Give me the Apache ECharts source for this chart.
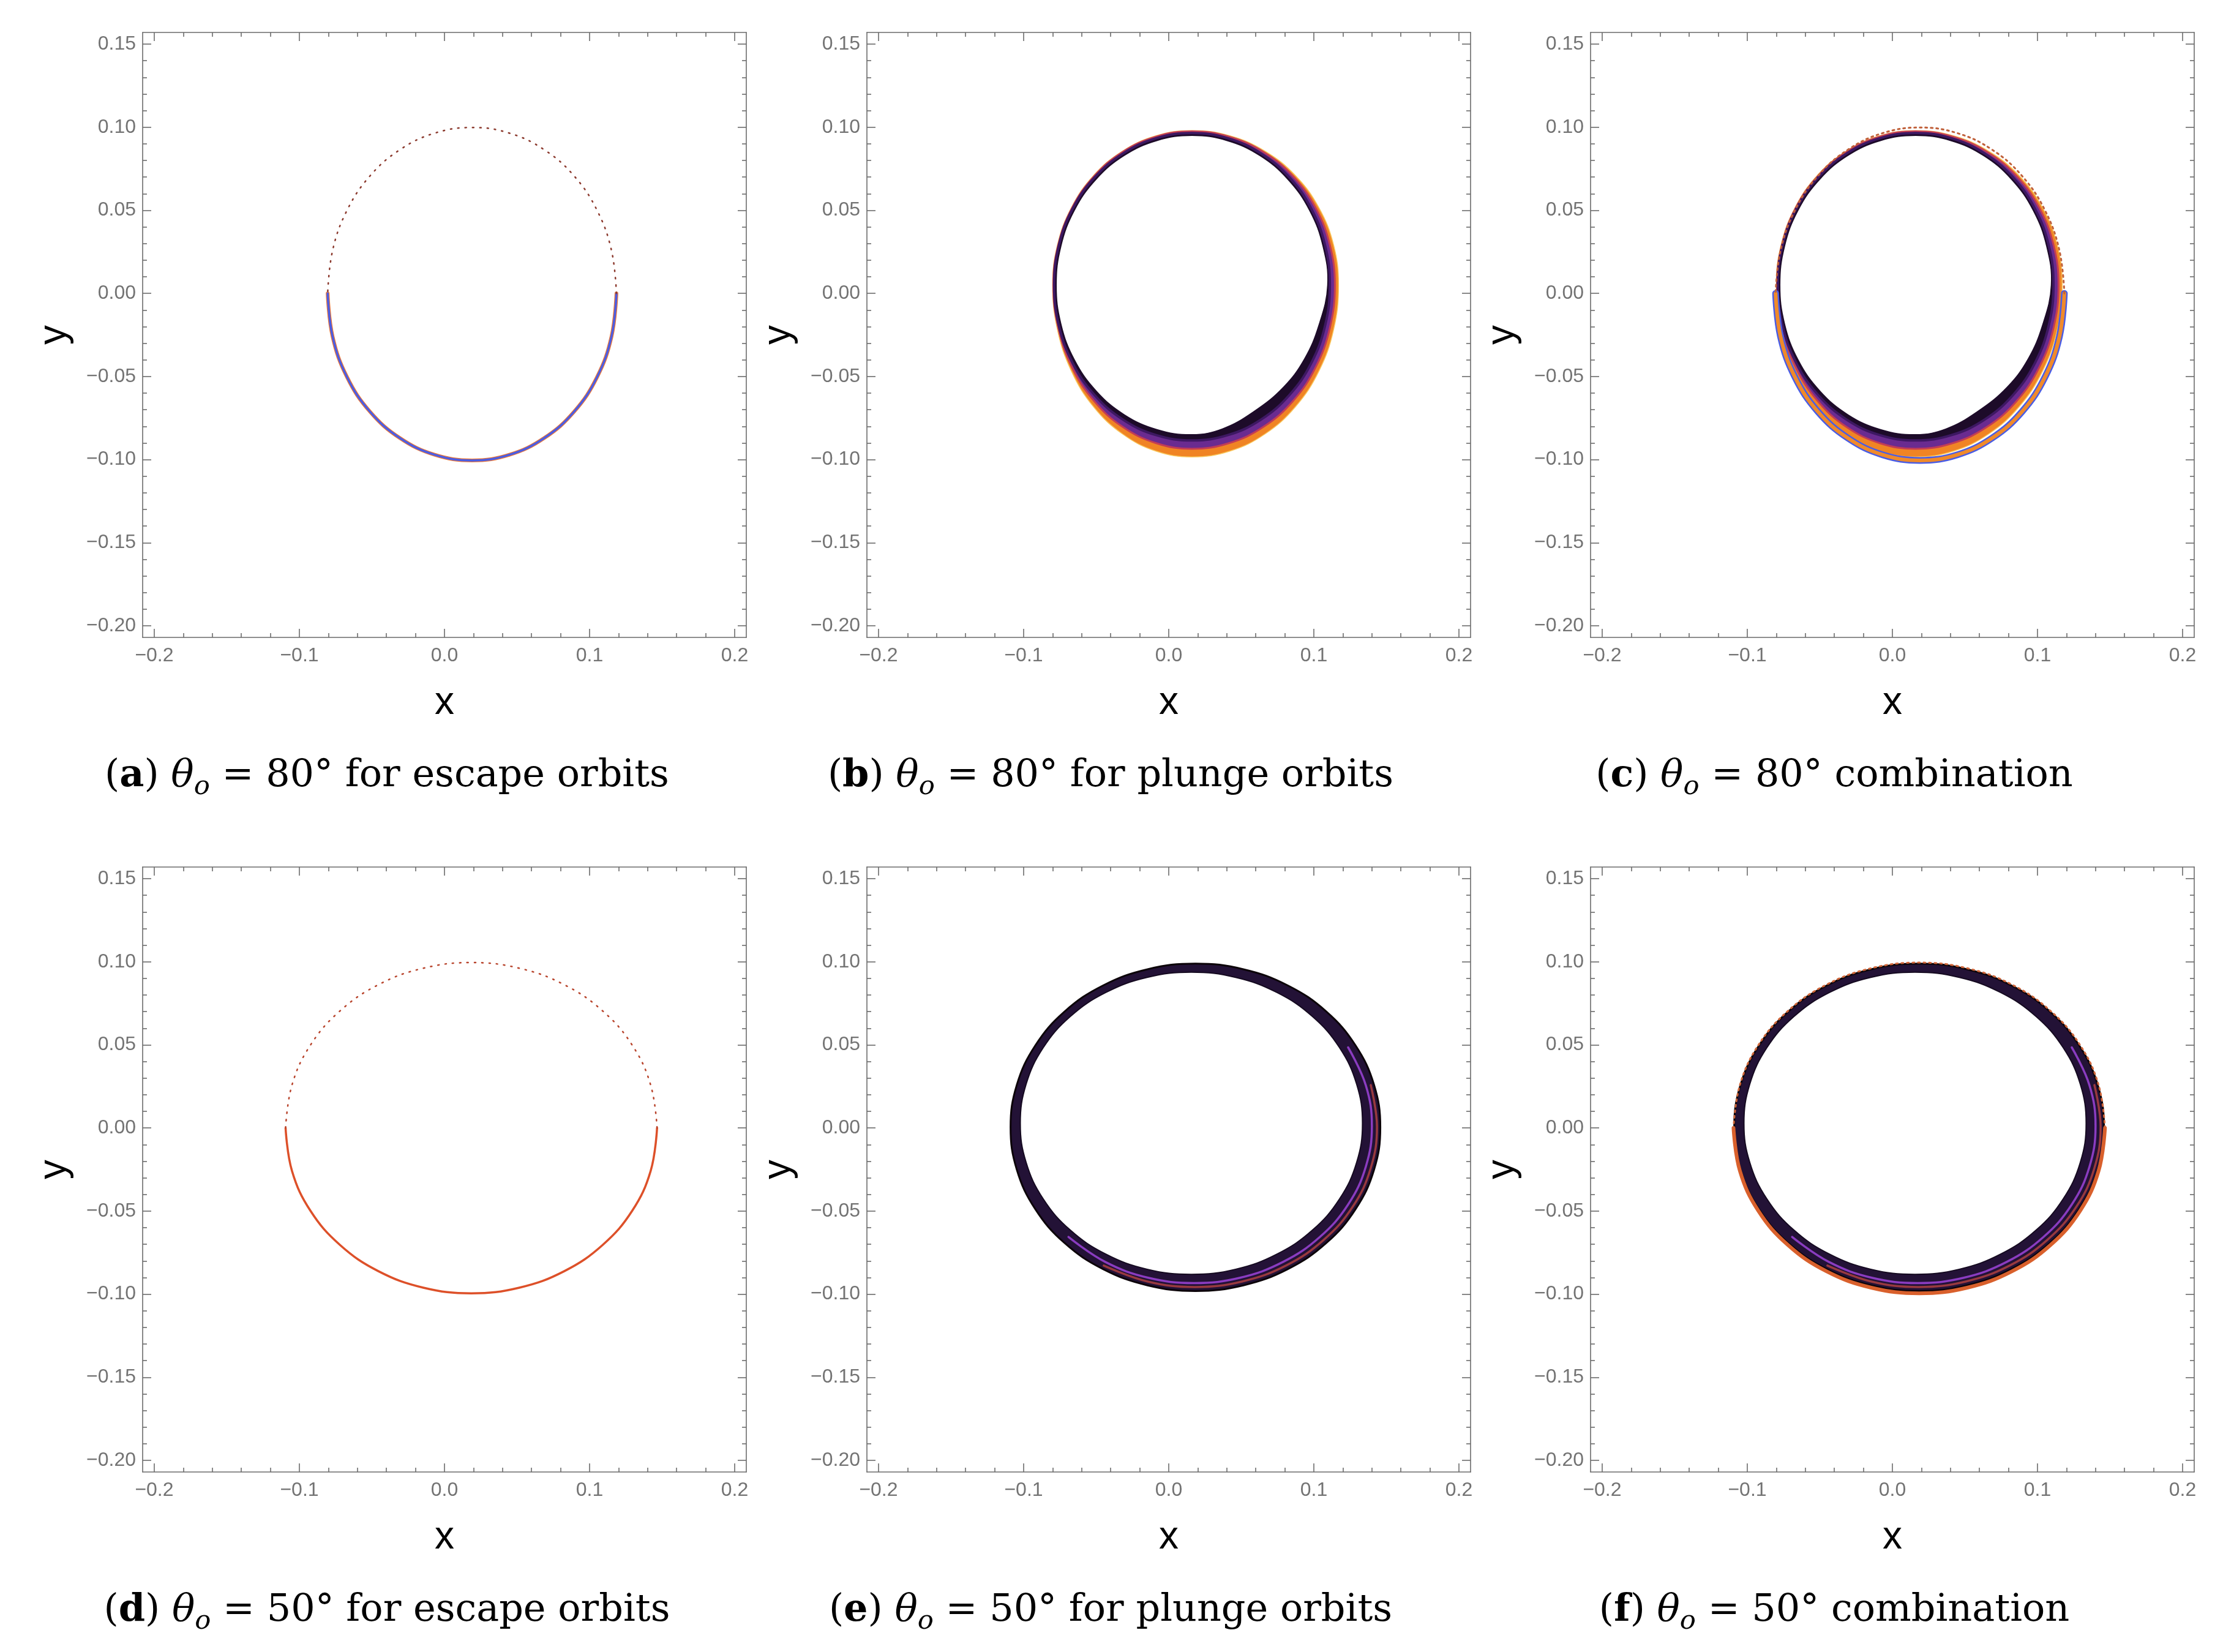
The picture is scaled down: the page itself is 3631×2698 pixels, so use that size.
<!DOCTYPE html>
<html lang="en">

<head>
  <meta charset="UTF-8">
  <meta name="viewport" content="width=device-width, initial-scale=1.0">
  <title>Shadow rings</title>
  <style>
    html, body {
      margin: 0;
      padding: 0;
      background: #fff;
    }

    #main {
      width: 3631px;
      height: 2698px;
    }
  </style>
</head>

<body>
  <div id="main"></div>
  <script src="https://cdn.jsdelivr.net/npm/echarts@6/dist/echarts.min.js"></script>
  <script>
    // ---- ticks ----
    var xMajorTicks = [-0.2, -0.1, 0, 0.1, 0.2];
    var xMinorTicks = [-0.18, -0.16, -0.14, -0.12, -0.08, -0.06, -0.04, -0.02,
      0.02, 0.04, 0.06, 0.08, 0.12, 0.14, 0.16, 0.18];
    var yMajorTicks = [-0.2, -0.15, -0.1, -0.05, 0, 0.05, 0.1, 0.15];
    var yMinorTicks = [-0.19, -0.18, -0.17, -0.16, -0.14, -0.13, -0.12, -0.11,
      -0.09, -0.08, -0.07, -0.06, -0.04, -0.03, -0.02, -0.01,
      0.01, 0.02, 0.03, 0.04, 0.06, 0.07, 0.08, 0.09, 0.11, 0.12, 0.13, 0.14];

    // ---- captions ----
    var captionLetters = ['a', 'b', 'c', 'd', 'e', 'f'];
    var captionAngles = ['80', '80', '80', '50', '50', '50'];
    var captionTails = ['for escape orbits', 'for plunge orbits', 'combination',
      'for escape orbits', 'for plunge orbits', 'combination'];

    // ---- theta_o = 80 deg, escape orbits (thin ring) ----
    var escLowA = [[-0.0805, 0.000], [-0.0771, -0.0260], [-0.0672, -0.0503], [-0.0514, -0.0711],
      [-0.0308, -0.0870], [-0.0068, -0.0971], [0.0190, -0.1005], [0.0448, -0.0971],
      [0.0688, -0.0870], [0.0894, -0.0711], [0.1052, -0.0503], [0.1151, -0.0260], [0.1185, 0.000]];
    var escUpA = [[0.1185, 0.000], [0.1151, 0.0258], [0.1052, 0.0499], [0.0894, 0.0706],
      [0.0688, 0.0864], [0.0448, 0.0964], [0.0190, 0.0998], [-0.0068, 0.0964],
      [-0.0308, 0.0864], [-0.0514, 0.0706], [-0.0672, 0.0499], [-0.0771, 0.0258], [-0.0805, 0.000]];

    // ---- theta_o = 80 deg, plunge orbits (banded ring) ----
    var outerB = [[0.1170, 0.005], [0.1136, 0.0291], [0.1035, 0.0515], [0.0874, 0.0708],
      [0.0665, 0.0855], [0.0421, 0.0948], [0.0160, 0.0980], [-0.0088, 0.0948],
      [-0.0320, 0.0855], [-0.0519, 0.0708], [-0.0671, 0.0515], [-0.0767, 0.0291],
      [-0.0800, 0.005], [-0.0767, -0.0218], [-0.0671, -0.0467], [-0.0519, -0.0681],
      [-0.0320, -0.0845], [-0.0088, -0.0949], [0.0160, -0.0984], [0.0421, -0.0949],
      [0.0665, -0.0845], [0.0874, -0.0681], [0.1035, -0.0467], [0.1136, -0.0218]];
    var purpleB = [[0.1145, 0.005], [0.1111, 0.0289], [0.1013, 0.0513], [0.0857, 0.0704],
      [0.0653, 0.0851], [0.0415, 0.0943], [0.0160, 0.0975], [-0.0087, 0.0943],
      [-0.0318, 0.0851], [-0.0515, 0.0704], [-0.0667, 0.0513], [-0.0762, 0.0289],
      [-0.0795, 0.005], [-0.0762, -0.0205], [-0.0667, -0.0443], [-0.0515, -0.0647],
      [-0.0318, -0.0803], [-0.0087, -0.0901], [0.0160, -0.0935], [0.0415, -0.0901],
      [0.0653, -0.0803], [0.0857, -0.0647], [0.1013, -0.0443], [0.1111, -0.0205]];
    var blackB = [[0.1110, 0.005], [0.1078, 0.0287], [0.0983, 0.0508], [0.0832, 0.0697],
      [0.0635, 0.0842], [0.0406, 0.0934], [0.0160, 0.0965], [-0.0086, 0.0934],
      [-0.0315, 0.0842], [-0.0512, 0.0697], [-0.0663, 0.0508], [-0.0758, 0.0287],
      [-0.0790, 0.005], [-0.0758, -0.0192], [-0.0663, -0.0418], [-0.0512, -0.0611],
      [-0.0315, -0.0760], [-0.0086, -0.0853], [0.0160, -0.0885], [0.0406, -0.0853],
      [0.0635, -0.0760], [0.0832, -0.0611], [0.0983, -0.0418], [0.1078, -0.0192]];
    var holeB = [[0.1095, 0.005], [0.1063, 0.0283], [0.0970, 0.0500], [0.0821, 0.0686],
      [0.0628, 0.0829], [0.0402, 0.0919], [0.0160, 0.0950], [-0.0082, 0.0919],
      [-0.0308, 0.0829], [-0.0501, 0.0686], [-0.0650, 0.0500], [-0.0743, 0.0283],
      [-0.0775, 0.005], [-0.0743, -0.0183], [-0.0650, -0.0400], [-0.0501, -0.0586],
      [-0.0308, -0.0729], [-0.0082, -0.0819], [0.0160, -0.0850], [0.0370, -0.0815],
      [0.0585, -0.0712], [0.0790, -0.0565], [0.0935, -0.0395], [0.1035, -0.0190]];

    // ---- theta_o = 50 deg, escape orbits (thin ring) ----
    var escLowD = [[-0.1095, 0.000], [-0.1051, -0.0258], [-0.0924, -0.0498], [-0.0720, -0.0704],
      [-0.0455, -0.0862], [-0.0146, -0.0961], [0.0185, -0.0995], [0.0516, -0.0961],
      [0.0825, -0.0862], [0.1090, -0.0704], [0.1294, -0.0498], [0.1421, -0.0258], [0.1465, 0.000]];
    var escUpD = [[0.1465, 0.000], [0.1421, 0.0258], [0.1294, 0.0498], [0.1090, 0.0704],
      [0.0825, 0.0862], [0.0516, 0.0961], [0.0185, 0.0995], [-0.0146, 0.0961],
      [-0.0455, 0.0862], [-0.0720, 0.0704], [-0.0924, 0.0498], [-0.1051, 0.0258], [-0.1095, 0.000]];

    // ---- theta_o = 50 deg, plunge orbits (thick dark ring) ----
    var outerE = [[0.1458, 0.0004], [0.1415, 0.0259], [0.1287, 0.0497], [0.1085, 0.0701],
      [0.0821, 0.0857], [0.0514, 0.0955], [0.0184, 0.0989], [-0.0146, 0.0955],
      [-0.0453, 0.0857], [-0.0717, 0.0701], [-0.0919, 0.0497], [-0.1047, 0.0259],
      [-0.1090, 0.0004], [-0.1047, -0.0251], [-0.0919, -0.0489], [-0.0717, -0.0693],
      [-0.0453, -0.0849], [-0.0146, -0.0947], [0.0184, -0.0981], [0.0514, -0.0947],
      [0.0821, -0.0849], [0.1085, -0.0693], [0.1287, -0.0489], [0.1415, -0.0251]];
    var holeE = [[0.1335, 0.0028], [0.1295, 0.0263], [0.1177, 0.0483], [0.0990, 0.0671],
      [0.0746, 0.0815], [0.0461, 0.0906], [0.0156, 0.0937], [-0.0149, 0.0906],
      [-0.0434, 0.0815], [-0.0678, 0.0671], [-0.0865, 0.0483], [-0.0983, 0.0263],
      [-0.1023, 0.0028], [-0.0983, -0.0207], [-0.0865, -0.0427], [-0.0678, -0.0615],
      [-0.0434, -0.0759], [-0.0149, -0.0850], [0.0156, -0.0881], [0.0461, -0.0850],
      [0.0746, -0.0759], [0.0990, -0.0615], [0.1177, -0.0427], [0.1295, -0.0207]];
    var redArcE = [[0.1392, 0.0258], [0.1435, 0.0008], [0.1392, -0.0242], [0.1267, -0.0475],
      [0.1067, -0.0674], [0.0808, -0.0828], [0.0505, -0.0924], [0.0180, -0.0957],
      [-0.0145, -0.0924], [-0.0448, -0.0828]];
    var purpleArcE = [[0.1236, 0.0485], [0.1358, 0.0257], [0.1400, 0.0012], [0.1358, -0.0233],
      [0.1236, -0.0461], [0.1041, -0.0656], [0.0788, -0.0806], [0.0492, -0.0901],
      [0.0175, -0.0933], [-0.0142, -0.0901], [-0.0438, -0.0806], [-0.0691, -0.0656]];

    var X_MIN = -0.208, X_MAX = 0.208, Y_MIN = -0.207, Y_MAX = 0.157;
    var gridLefts = [233, 1416, 2598];
    var gridTops = [53, 1416];
    var GRID_W = 986, GRID_H = 988;
    var axisColor = '#6b6b6b';
    var labelColor = '#737373';

    function fmtX(v) {
      return (v < 0 ? '\u2212' : '') + Math.abs(v).toFixed(1);
    }
    function fmtY(v) {
      return (v < 0 ? '\u2212' : '') + Math.abs(v).toFixed(2);
    }

    var grids = [], xAxes = [], yAxes = [], series = [], graphics = [];

    function tickAxis(g, dim, pos, major, withLabel) {
      var ax = {
        gridIndex: g,
        type: 'value',
        min: dim === 'x' ? X_MIN : Y_MIN,
        max: dim === 'x' ? X_MAX : Y_MAX,
        position: pos,
        splitLine: { show: false },
        axisLine: { show: major, onZero: false, lineStyle: { color: axisColor, width: 1.6 } },
        axisTick: {
          show: true, inside: true, length: major ? 14 : 7,
          customValues: dim === 'x' ? (major ? xMajorTicks : xMinorTicks) : (major ? yMajorTicks : yMinorTicks),
          lineStyle: { color: axisColor, width: 1.6 }
        },
        axisLabel: { show: false },
        silent: true
      };
      if (withLabel) {
        ax.axisLabel = {
          show: true,
          customValues: dim === 'x' ? xMajorTicks : yMajorTicks,
          formatter: dim === 'x' ? fmtX : fmtY,
          margin: dim === 'x' ? 14 : 11,
          color: labelColor,
          fontSize: 32,
          fontFamily: 'Liberation Sans'
        };
        ax.name = dim;
        ax.nameLocation = 'middle';
        ax.nameGap = dim === 'x' ? 75 : 112;
        ax.nameRotate = dim === 'x' ? 0 : 90;
        ax.nameTextStyle = { color: '#000', fontSize: 64, fontFamily: 'Liberation Sans' };
      }
      return ax;
    }

    function polygonLayer(g, contour, fill, stroke, strokeWidth) {
      return {
        type: 'custom',
        xAxisIndex: 4 * g,
        yAxisIndex: 4 * g,
        data: contour,
        silent: true,
        animation: false,
        renderItem: function (params, api) {
          if (params.dataIndex !== 0) return null;
          var pts = contour.map(function (p) { return api.coord(p); });
          return {
            type: 'polygon',
            shape: { points: pts, smooth: 0.4 },
            style: { fill: fill, stroke: stroke || null, lineWidth: strokeWidth || 0 }
          };
        }
      };
    }

    function arcLayer(g, arc, color, width, dash) {
      return {
        type: 'line',
        xAxisIndex: 4 * g,
        yAxisIndex: 4 * g,
        data: arc,
        symbol: 'none',
        smooth: 0.4,
        silent: true,
        animation: false,
        lineStyle: { color: color, width: width, type: dash || 'solid', cap: 'round' }
      };
    }

    function plungeB(g) {
      series.push(polygonLayer(g, outerB, '#f08424', '#f9c65a', 1.5));
      series.push(polygonLayer(g, purpleB, '#6a2b90', '#c23d55', 3));
      series.push(polygonLayer(g, blackB, '#1d0b29', '#3d1862', 4));
      series.push(polygonLayer(g, holeB, '#ffffff', '#1d0b29', 1.5));
    }
    function plungeE(g) {
      series.push(polygonLayer(g, outerE, '#231236', '#0c0409', 3));
      series.push(arcLayer(g, redArcE, '#98393f', 3.5));
      series.push(arcLayer(g, purpleArcE, '#8a3cc0', 3.5));
      series.push(polygonLayer(g, holeE, '#ffffff', '#150a20', 2));
    }

    for (var g = 0; g < 6; g++) {
      var col = g % 3, row = Math.floor(g / 3);
      grids.push({ left: gridLefts[col], top: gridTops[row], width: GRID_W, height: GRID_H, outerBoundsMode: 'none' });
      xAxes.push(tickAxis(g, 'x', 'bottom', true, true));
      xAxes.push(tickAxis(g, 'x', 'bottom', false, false));
      xAxes.push(tickAxis(g, 'x', 'top', true, false));
      xAxes.push(tickAxis(g, 'x', 'top', false, false));
      yAxes.push(tickAxis(g, 'y', 'left', true, true));
      yAxes.push(tickAxis(g, 'y', 'left', false, false));
      yAxes.push(tickAxis(g, 'y', 'right', true, false));
      yAxes.push(tickAxis(g, 'y', 'right', false, false));
    }

    // panel (a): escape, 80 deg
    series.push(arcLayer(0, escLowA, '#e8773c', 6));
    series.push(arcLayer(0, escLowA, '#4a5de4', 3.5));
    series.push(arcLayer(0, escUpA, '#8c3a2e', 2.5, [2, 10]));
    // panel (b): plunge, 80 deg
    plungeB(1);
    // panel (c): combination, 80 deg
    series.push(arcLayer(2, escLowA, '#4a5de4', 11));
    series.push(arcLayer(2, escLowA, '#f08a2a', 6));
    plungeB(2);
    series.push(arcLayer(2, escUpA, '#c0603a', 3, [3, 6]));
    // panel (d): escape, 50 deg
    series.push(arcLayer(3, escLowD, '#dd5029', 3.5));
    series.push(arcLayer(3, escUpD, '#b8442c', 2.5, [2, 10]));
    // panel (e): plunge, 50 deg
    plungeE(4);
    // panel (f): combination, 50 deg
    series.push(arcLayer(5, escLowD, '#d9602c', 6));
    plungeE(5);
    series.push(arcLayer(5, escUpD, '#d0663a', 3, [3, 6]));

    // ---- captions laid out piece by piece ----
    var capFont = 'DejaVu Serif';
    var capSize = 62;
    var measureCtx = document.createElement('canvas').getContext('2d');
    function textWidth(t, size, weight, style) {
      measureCtx.font = style + ' ' + weight + ' ' + size + 'px "' + capFont + '"';
      return measureCtx.measureText(t).width;
    }
    var capCenters = [632, 1814, 2996];
    var capMiddles = [1268, 2631];
    for (var i = 0; i < 6; i++) {
      var pieces = [
        { t: '(', w: 'normal', s: 'normal', k: 1, dy: 0 },
        { t: captionLetters[i], w: 'bold', s: 'normal', k: 1, dy: 0 },
        { t: ') ', w: 'normal', s: 'normal', k: 1, dy: 0 },
        { t: '\u03b8', w: 'normal', s: 'italic', k: 1, dy: 0 },
        { t: 'o', w: 'normal', s: 'italic', k: 0.7, dy: 0.28 },
        { t: ' = ' + captionAngles[i] + '\u00b0 ' + captionTails[i], w: 'normal', s: 'normal', k: 1, dy: 0 }
      ];
      var total = 0;
      pieces.forEach(function (p) {
        p.width = textWidth(p.t, capSize * p.k, p.w, p.s);
        total += p.width;
      });
      var xx = capCenters[i % 3] - total / 2;
      var yy = capMiddles[Math.floor(i / 3)];
      pieces.forEach(function (p) {
        graphics.push({
          type: 'text',
          x: xx,
          y: yy + p.dy * capSize,
          silent: true,
          style: {
            text: p.t,
            fontFamily: capFont,
            fontSize: capSize * p.k,
            fontWeight: p.w,
            fontStyle: p.s,
            fill: '#000',
            align: 'left',
            verticalAlign: 'middle'
          }
        });
        xx += p.width;
      });
    }

    var myChart = echarts.init(document.getElementById('main'), null, { renderer: 'canvas' });
    var option = {
      animation: false,
      backgroundColor: '#fff',
      grid: grids,
      xAxis: xAxes,
      yAxis: yAxes,
      series: series,
      graphic: graphics
    };
    option && myChart.setOption(option);
  </script>
</body>

</html>
